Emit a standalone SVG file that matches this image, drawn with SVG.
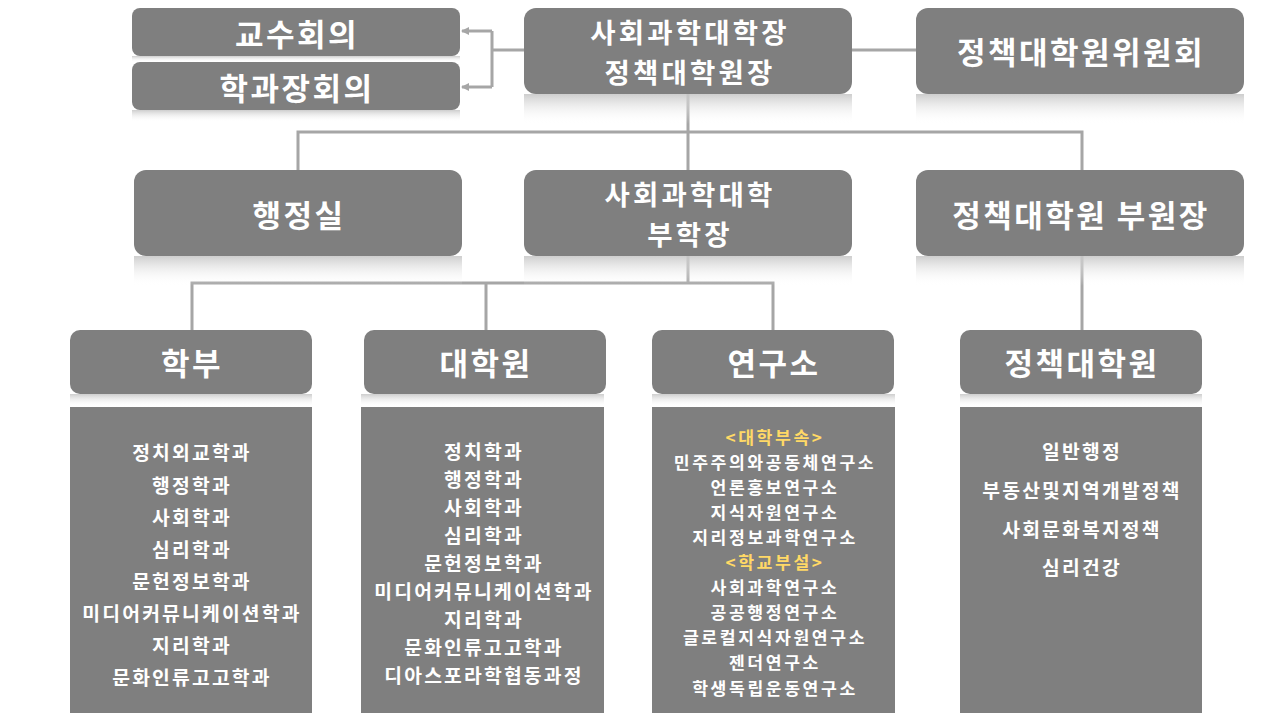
<svg xmlns="http://www.w3.org/2000/svg" width="1280" height="720" viewBox="0 0 1280 720">
<defs>
<style>
.box{fill:#7f7f7f}
.t{font-family:"Noto Sans CJK KR","Noto Sans",sans-serif;font-weight:700;fill:#ffffff;text-anchor:middle;dominant-baseline:central}
.h{font-size:31px;letter-spacing:2.5px}
.h2{font-size:27.5px;letter-spacing:3.2px}
.b{font-size:19.3px;letter-spacing:2.2px}
.r{font-size:17.2px;letter-spacing:2.6px}
.y{fill:#ffd966}
.ln{stroke:#a6a6a6;stroke-width:3;fill:none}
</style>
<linearGradient id="refl" x1="0" y1="0" x2="0" y2="1">
<stop offset="0" stop-color="#c8c8c8" stop-opacity="0.9"/>
<stop offset="1" stop-color="#ffffff" stop-opacity="0"/>
</linearGradient>
<marker id="arr" markerWidth="8" markerHeight="8" refX="7" refY="4" orient="auto" markerUnits="userSpaceOnUse">
<path d="M0,0 L8,4 L0,8 Z" fill="#a6a6a6"/>
</marker>
</defs>
<rect width="1280" height="720" fill="#ffffff"/>

<g id="connectors">
<path class="ln" d="M524,50 H492 M492,31 V87"/>
<path class="ln" d="M492,31 H462" marker-end="url(#arr)"/>
<path class="ln" d="M492,87 H462" marker-end="url(#arr)"/>
<path class="ln" d="M852,50 H916"/>
<path class="ln" d="M688,94 V170 M298,170 V132 H1082 V170"/>
<path class="ln" d="M688,256 V283 M192,330 V283 H773 V330 M486,283 V330"/>
<path class="ln" d="M1082,256 V330"/>
</g>

<g id="reflections">
<rect x="132" y="56" width="328" height="6" fill="url(#refl)"/>
<rect x="132" y="110" width="328" height="12" fill="url(#refl)"/>
<rect x="524" y="94" width="328" height="30" fill="url(#refl)"/>
<rect x="916" y="94" width="328" height="30" fill="url(#refl)"/>
<rect x="134" y="256" width="328" height="30" fill="url(#refl)"/>
<rect x="524" y="256" width="328" height="30" fill="url(#refl)"/>
<rect x="916" y="256" width="328" height="30" fill="url(#refl)"/>
<rect x="70" y="394" width="242" height="13" fill="url(#refl)"/>
<rect x="361" y="394" width="243" height="13" fill="url(#refl)"/>
<rect x="652" y="394" width="243" height="13" fill="url(#refl)"/>
<rect x="960" y="394" width="242" height="13" fill="url(#refl)"/>
</g>

<g id="n-gyosu">
<rect class="box" x="132" y="8" width="328" height="48" rx="8"/>
<text class="t h" x="297" y="32">교수회의</text>
</g>
<g id="n-hakgwajang">
<rect class="box" x="132" y="62" width="328" height="48" rx="8"/>
<text class="t h" x="297" y="86">학과장회의</text>
</g>
<g id="n-dean">
<rect class="box" x="524" y="8" width="328" height="86" rx="12"/>
<text class="t h2" x="690" y="31"><tspan x="690" y="31">사회과학대학장</tspan><tspan x="690" y="71">정책대학원장</tspan></text>
</g>
<g id="n-committee">
<rect class="box" x="916" y="8" width="328" height="86" rx="12"/>
<text class="t h" x="1081" y="50">정책대학원위원회</text>
</g>

<g id="n-admin">
<rect class="box" x="134" y="170" width="328" height="86" rx="12"/>
<text class="t h" x="299" y="213">행정실</text>
</g>
<g id="n-vicedean">
<rect class="box" x="524" y="170" width="328" height="86" rx="12"/>
<text class="t h2" x="690" y="193"><tspan x="690" y="193">사회과학대학</tspan><tspan x="690" y="233">부학장</tspan></text>
</g>
<g id="n-vicedirector">
<rect class="box" x="916" y="170" width="328" height="86" rx="12"/>
<text class="t h" x="1081" y="213">정책대학원 부원장</text>
</g>

<g id="n-undergrad">
<rect class="box" x="70" y="330" width="242" height="64" rx="10"/>
<text class="t h" x="192" y="361">학부</text>
<rect class="box" x="70" y="407" width="242" height="306"/>
<text class="t b" x="192" y="452"><tspan x="192" y="452">정치외교학과</tspan><tspan x="192" y="485">행정학과</tspan><tspan x="192" y="517">사회학과</tspan><tspan x="192" y="549">심리학과</tspan><tspan x="192" y="581">문헌정보학과</tspan><tspan x="192" y="613">미디어커뮤니케이션학과</tspan><tspan x="192" y="645">지리학과</tspan><tspan x="192" y="677">문화인류고고학과</tspan></text>
</g>

<g id="n-grad">
<rect class="box" x="364" y="330" width="242" height="64" rx="10"/>
<text class="t h" x="486" y="361">대학원</text>
<rect class="box" x="361" y="407" width="243" height="306"/>
<text class="t b" x="484" y="451"><tspan x="484" y="451">정치학과</tspan><tspan x="484" y="479">행정학과</tspan><tspan x="484" y="507">사회학과</tspan><tspan x="484" y="535">심리학과</tspan><tspan x="484" y="563">문헌정보학과</tspan><tspan x="484" y="591">미디어커뮤니케이션학과</tspan><tspan x="484" y="619">지리학과</tspan><tspan x="484" y="647">문화인류고고학과</tspan><tspan x="484" y="675">디아스포라학협동과정</tspan></text>
</g>

<g id="n-research">
<rect class="box" x="652" y="330" width="242" height="64" rx="10"/>
<text class="t h" x="774" y="361">연구소</text>
<rect class="box" x="652" y="407" width="243" height="306"/>
<text class="t r" x="775" y="436"><tspan class="y" x="775" y="436">&lt;대학부속&gt;</tspan><tspan x="775" y="461">민주주의와공동체연구소</tspan><tspan x="775" y="486">언론홍보연구소</tspan><tspan x="775" y="511">지식자원연구소</tspan><tspan x="775" y="536">지리정보과학연구소</tspan><tspan class="y" x="775" y="561">&lt;학교부설&gt;</tspan><tspan x="775" y="586">사회과학연구소</tspan><tspan x="775" y="611">공공행정연구소</tspan><tspan x="775" y="636">글로컬지식자원연구소</tspan><tspan x="775" y="661">젠더연구소</tspan><tspan x="775" y="687">학생독립운동연구소</tspan></text>
</g>

<g id="n-policy">
<rect class="box" x="960" y="330" width="242" height="64" rx="10"/>
<text class="t h" x="1082" y="361">정책대학원</text>
<rect class="box" x="960" y="407" width="242" height="306"/>
<text class="t b" x="1082" y="451"><tspan x="1082" y="451">일반행정</tspan><tspan x="1082" y="490">부동산및지역개발정책</tspan><tspan x="1082" y="529">사회문화복지정책</tspan><tspan x="1082" y="567">심리건강</tspan></text>
</g>
</svg>
